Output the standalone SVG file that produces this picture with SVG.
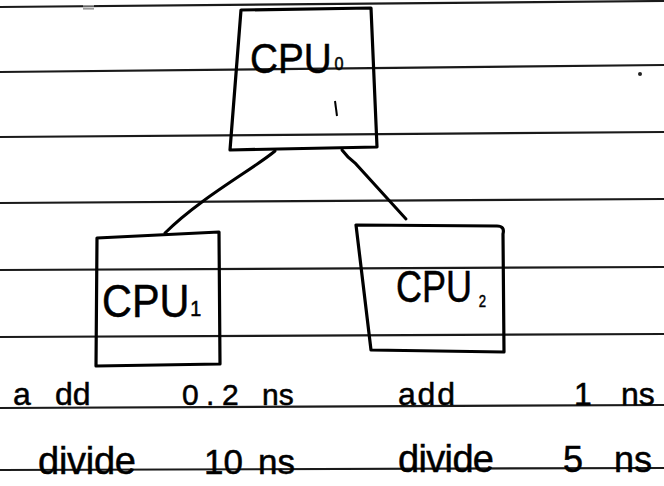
<svg xmlns="http://www.w3.org/2000/svg" width="664" height="486" viewBox="0 0 664 486">
  <style>
    .rule { stroke: #1a1a1a; stroke-width: 2.2; fill: none; }
    .box { stroke: #000; stroke-width: 3.2; fill: none; stroke-linejoin: round; stroke-linecap: round; }
    .wire { stroke: #000; stroke-width: 3; fill: none; stroke-linecap: round; }
    .hand { font-family: "Liberation Sans", "DejaVu Sans", sans-serif; fill: #000; stroke: #000; stroke-width: 0.5; }
  </style>
  <rect width="664" height="486" fill="#fff"/>

  <!-- ruled notebook lines -->
  <g id="paper">
    <line class="rule" x1="0" y1="7" x2="664" y2="1"/>
    <line class="rule" x1="0" y1="72" x2="664" y2="65"/>
    <line class="rule" x1="0" y1="137" x2="664" y2="132"/>
    <line class="rule" x1="0" y1="203" x2="664" y2="199"/>
    <line class="rule" x1="0" y1="270" x2="664" y2="267"/>
    <line class="rule" x1="0" y1="337" x2="664" y2="334"/>
    <line class="rule" x1="0" y1="408" x2="664" y2="405"/>
    <line class="rule" x1="0" y1="470" x2="664" y2="468"/>
    <rect x="83" y="5" width="11" height="1.6" fill="#999"/>
    <rect x="83" y="8" width="11" height="1.6" fill="#999"/>
    <circle cx="640" cy="74" r="2" fill="#222"/>
  </g>

  <!-- links from the top processor to the two lower ones -->
  <g id="connectors">
    <path class="wire" d="M275,151 C255,168 200,198 165,233"/>
    <path class="wire" d="M342,150 Q348,158 355,163 L406,219"/>
  </g>

  <g id="node-cpu0">
    <path class="box" d="M241,10 L371,8 L377,147 L230,150 Z"/>
    <text class="hand" font-size="43" transform="translate(250,73) scale(0.9,1)">CPU<tspan dx="3" dy="-3" font-size="18">0</tspan></text>
    <path d="M335,101 L337,116" stroke="#000" stroke-width="2" fill="none"/>
  </g>

  <g id="node-cpu1">
    <path class="box" d="M97,238 L219,232 L220,364 L96,366 Z"/>
    <text class="hand" font-size="46" transform="translate(102,317) scale(0.9,1)">CPU<tspan dx="1" dy="-1" font-size="22">1</tspan></text>
  </g>

  <g id="node-cpu2">
    <path class="box" d="M356,225 L497,226 Q505,226 503,234 L504,352 L371,350 Z"/>
    <text class="hand" font-size="44" transform="translate(396,302) scale(0.82,1)">CPU<tspan dx="8" dy="5" font-size="16">2</tspan></text>
  </g>

  <!-- instruction timings under each lower processor -->
  <g id="timings">
    <text class="hand" x="13" y="405" font-size="32">a<tspan x="55">dd</tspan></text>
    <text class="hand" x="182 206 222" y="405" font-size="30">0.2<tspan x="262">ns</tspan></text>
    <text class="hand" x="398" y="405" font-size="32" textLength="57" lengthAdjust="spacing">add</text>
    <text class="hand" x="574" y="405" font-size="32">1<tspan x="621">ns</tspan></text>

    <text class="hand" x="38" y="474" font-size="38" textLength="98" lengthAdjust="spacing">divide</text>
    <text class="hand" x="204" y="474" font-size="35">10<tspan x="258">ns</tspan></text>
    <text class="hand" x="398" y="472" font-size="38" textLength="96" lengthAdjust="spacing">divide</text>
    <text class="hand" x="563" y="472" font-size="36">5<tspan x="614">ns</tspan></text>
  </g>
</svg>
